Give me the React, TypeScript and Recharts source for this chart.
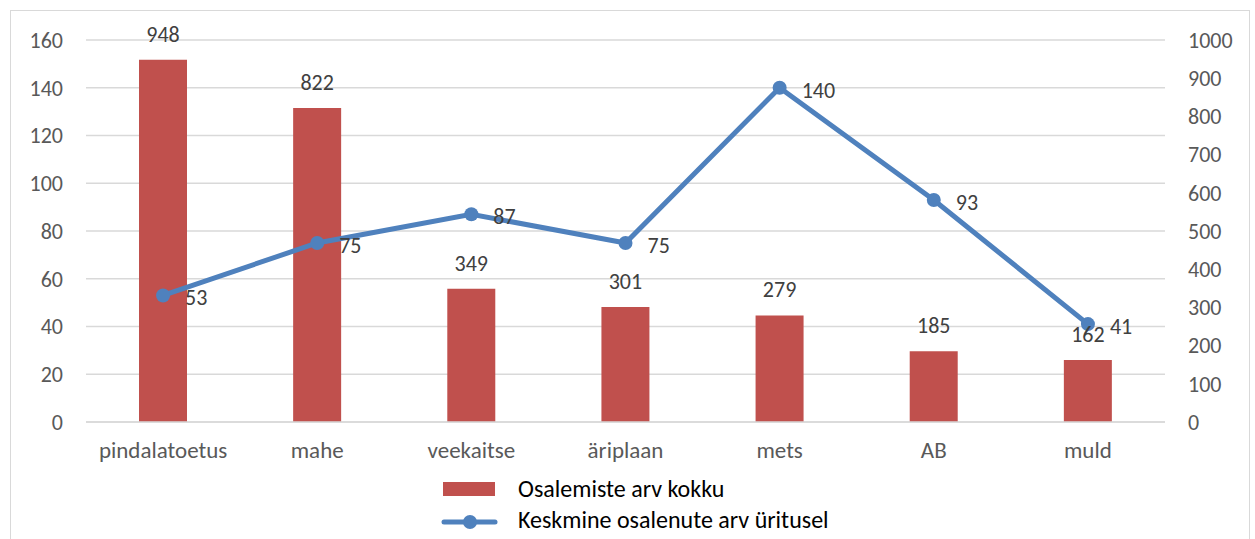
import React from "react";
import {
  ComposedChart,
  Bar,
  Line,
  XAxis,
  YAxis,
  CartesianGrid,
  LabelList,
} from "recharts";

const categories = ["pindalatoetus", "mahe", "veekaitse", "äriplaan", "mets", "AB", "muld"];
const totalParticipations = [948, 822, 349, 301, 279, 185, 162];
const avgParticipants = [53, 75, 87, 75, 140, 93, 41];
const leftTicks = [0, 20, 40, 60, 80, 100, 120, 140, 160];
const rightTicks = [0, 100, 200, 300, 400, 500, 600, 700, 800, 900, 1000];

const BAR_NAME = "Osalemiste arv kokku";
const LINE_NAME = "Keskmine osalenute arv üritusel";

const data = categories.map((c, i) => ({
  name: c,
  total: totalParticipations[i],
  avg: avgParticipants[i],
}));

const FONT = "Carlito, Calibri, Lato, 'Open Sans', sans-serif";
const BAR_COLOR = "#C0504D";
const LINE_COLOR = "#4F81BD";
const TICK_COLOR = "#595959";
const LABEL_COLOR = "#404040";
const NUM_SIZE = 22;
const CAT_SIZE = 23;

const LegendBlock = () => (
  <div style={{ position: "absolute", left: 440, top: 475, fontFamily: FONT, fontSize: 24, color: "#000", lineHeight: "28px" }}>
    <div style={{ display: "flex", alignItems: "center", height: 28 }}>
      <svg width={78} height={28} style={{ display: "block" }}>
        <rect x={3} y={7} width={52} height={14} fill={BAR_COLOR} />
      </svg>
      <span>{BAR_NAME}</span>
    </div>
    <div style={{ display: "flex", alignItems: "center", height: 28, marginTop: 3 }}>
      <svg width={78} height={28} style={{ display: "block" }}>
        <line x1={4} y1={16} x2={55} y2={16} stroke={LINE_COLOR} strokeWidth={5} strokeLinecap="round" />
        <circle cx={30} cy={16} r={7} fill={LINE_COLOR} />
      </svg>
      <span>{LINE_NAME}</span>
    </div>
  </div>
);

export default function App() {
  return (
    <div style={{ position: "absolute", left: 0, top: 0, width: 1255, height: 539, background: "#fff", overflow: "hidden" }}>
      <div
        style={{
          position: "absolute",
          left: 10,
          top: 10,
          width: 1240,
          height: 560,
          border: "1px solid #D9D9D9",
          boxSizing: "border-box",
        }}
      />
      <div style={{ position: "absolute", left: 0, top: 0 }}>
        <ComposedChart
          width={1255}
          height={539}
          data={data}
          margin={{ top: 40, right: 10, bottom: 77, left: 10 }}
        >
          <CartesianGrid yAxisId="left" vertical={false} stroke="#D9D9D9" strokeWidth={1.5} />
          <XAxis
            dataKey="name"
            height={40}
            axisLine={{ stroke: "#D9D9D9", strokeWidth: 1.5 }}
            tickLine={false}
            tickMargin={14}
            tick={{ fill: TICK_COLOR, fontSize: CAT_SIZE, fontFamily: FONT }}
            interval={0}
          />
          <YAxis
            yAxisId="left"
            orientation="left"
            width={76}
            domain={[0, 160]}
            ticks={leftTicks}
            axisLine={false}
            tickLine={false}
            tickMargin={17}
            tick={{ fill: TICK_COLOR, fontSize: NUM_SIZE, fontFamily: FONT }}
          />
          <YAxis
            yAxisId="right"
            orientation="right"
            width={80}
            domain={[0, 1000]}
            ticks={rightTicks}
            axisLine={false}
            tickLine={false}
            tickMargin={17}
            tick={{ fill: TICK_COLOR, fontSize: NUM_SIZE, fontFamily: FONT, textAnchor: "start" }}
          />
          <Bar yAxisId="right" dataKey="total" name={BAR_NAME} fill={BAR_COLOR} barSize={48} isAnimationActive={false}>
            <LabelList dataKey="total" position="top" offset={18} fill={LABEL_COLOR} fontSize={NUM_SIZE} fontFamily={FONT} />
          </Bar>
          <Line
            yAxisId="left"
            dataKey="avg"
            name={LINE_NAME}
            stroke={LINE_COLOR}
            strokeWidth={5}
            dot={{ r: 7, fill: LINE_COLOR, stroke: LINE_COLOR, strokeWidth: 0 }}
            activeDot={false}
            isAnimationActive={false}
          >
            <LabelList dataKey="avg" position="right" offset={22} dy={2} fill={LABEL_COLOR} fontSize={NUM_SIZE} fontFamily={FONT} />
          </Line>
        </ComposedChart>
      </div>
      <LegendBlock />
    </div>
  );
}
